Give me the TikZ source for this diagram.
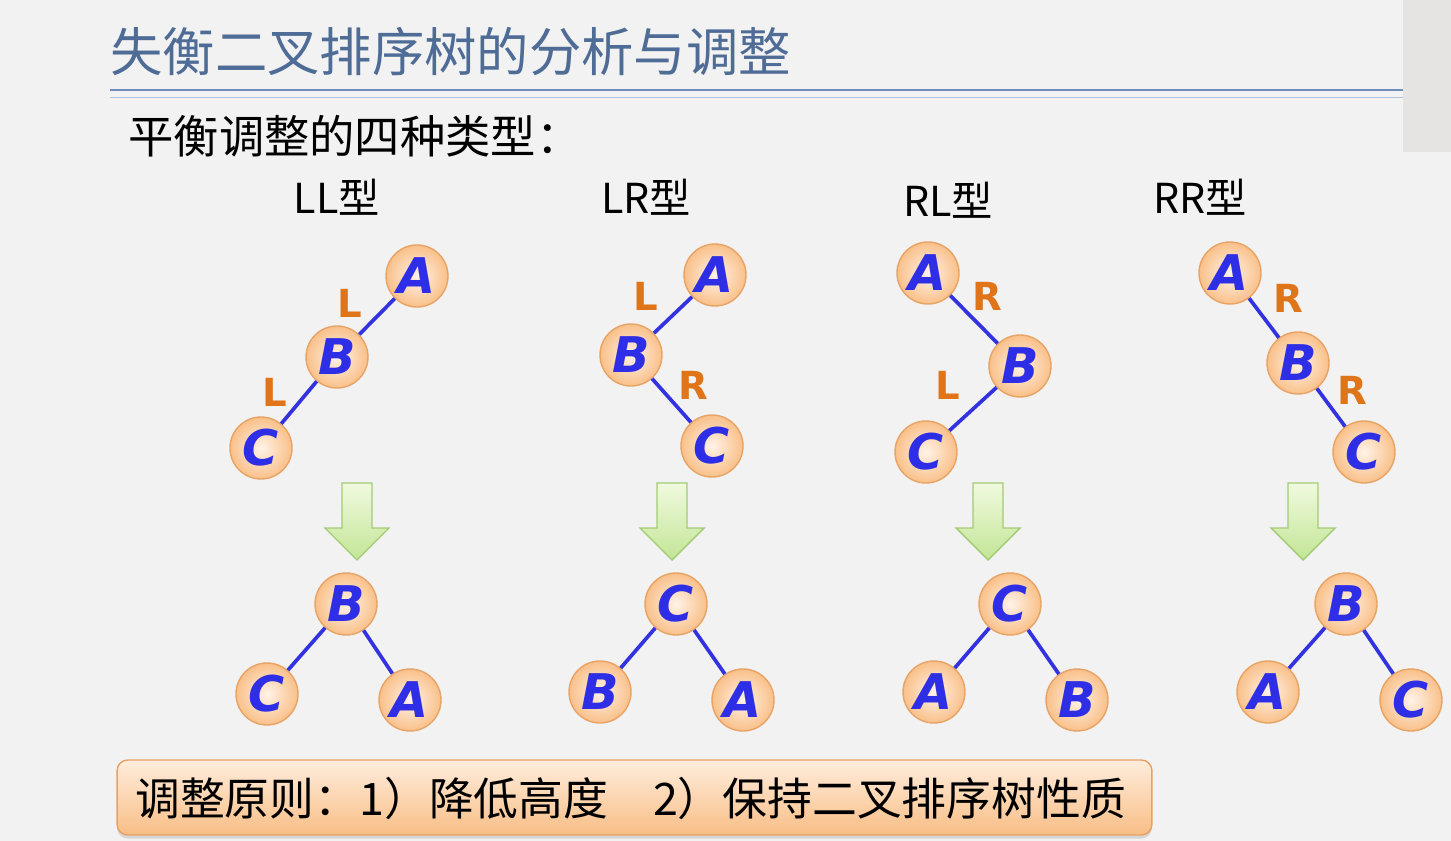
\documentclass[tikz,border=0pt]{standalone}
\usepackage{fontspec}
\setmainfont{Noto Sans CJK SC}
\newfontfamily\letterfont{DejaVu Sans}
\usetikzlibrary{shadows}
\definecolor{bg}{HTML}{F2F2F2}
\definecolor{sidegray}{HTML}{E6E3E3}
\definecolor{titleblue}{HTML}{4E6C96}
\definecolor{ruleA}{HTML}{6D8DBD}
\definecolor{ruleB}{HTML}{AFC2DD}
\definecolor{edgeblue}{HTML}{3232E0}
\definecolor{lblorange}{HTML}{E07418}
\definecolor{nodeIn}{HTML}{FFF3E8}
\definecolor{nodeOut}{HTML}{F9C089}
\definecolor{nodeBorder}{HTML}{E8A466}
\definecolor{letterblue}{HTML}{2E2EE6}
\definecolor{arrTop}{HTML}{F0FADF}
\definecolor{arrBot}{HTML}{C3E596}
\definecolor{arrBorder}{HTML}{A3CB74}
\definecolor{boxTop}{HTML}{FFEDDC}
\definecolor{boxBot}{HTML}{F8BE86}
\definecolor{boxBorder}{HTML}{E9A062}
\tikzset{
  tn/.style={circle, minimum size=1.24cm, inner sep=0pt, draw=nodeBorder, line width=0.8pt,
    inner color=nodeIn, outer color=nodeOut, text=letterblue,
    font=\letterfont\bfseries\itshape\fontsize{28}{28}\selectfont},
  edge/.style={draw=edgeblue, line width=2.1pt},
  lbl/.style={text=lblorange, inner sep=0pt, font=\letterfont\bfseries\fontsize{22}{22}\selectfont},
  typelbl/.style={inner sep=0pt, font=\fontsize{23.5}{23.5}\selectfont},
  downarr/.style={draw=arrBorder, line width=0.8pt, top color=arrTop, bottom color=arrBot},
}
\begin{document}
\begin{tikzpicture}[x=0.02cm,y=-0.02cm]
\useasboundingbox (0,0) rectangle (1451,841);
\fill[bg] (0,0) rectangle (1451,841);
\fill[sidegray] (1403,0) rectangle (1451,152);
% title
\node[anchor=west, inner sep=0pt, text=titleblue, font=\fontsize{29.8}{29.8}\selectfont] (title) at (110,52) {失衡二叉排序树的分析与调整};
\draw[ruleA, line width=1.6pt] (110,90) -- (1403,90);
\draw[ruleB, line width=1.1pt] (110,97.5) -- (1403,97.5);
\node[anchor=west, inner sep=0pt, font=\fontsize{25.8}{25.8}\selectfont] (sub) at (128,136) {平衡调整的四种类型：};
% type labels
\node[typelbl] (t1) at (337,197) {LL型};
\node[typelbl] (t2) at (646,197) {LR型};
\node[typelbl] (t3) at (948,200) {RL型};
\node[typelbl] (t4) at (1200,197) {RR型};
% LL
\node[tn] (llA) at (417,276) {A};
\node[tn] (llB) at (337,357) {B};
\node[tn] (llC) at (261,448) {C};
\draw[edge] (llA) -- (llB);
\draw[edge] (llB) -- (llC);
\node[lbl] (llL1) at (350,303) {L};
\node[lbl] (llL2) at (275,392) {L};
% LR
\node[tn] (lrA) at (715,275) {A};
\node[tn] (lrB) at (631,355) {B};
\node[tn] (lrC) at (712,446) {C};
\draw[edge] (lrA) -- (lrB);
\draw[edge] (lrB) -- (lrC);
\node[lbl] (lrL) at (646,296) {L};
\node[lbl] (lrR) at (693,385) {R};
% RL
\node[tn] (rlA) at (928,273) {A};
\node[tn] (rlB) at (1020,366) {B};
\node[tn] (rlC) at (926,452) {C};
\draw[edge] (rlA) -- (rlB);
\draw[edge] (rlB) -- (rlC);
\node[lbl] (rlR) at (987,296) {R};
\node[lbl] (rlL) at (948,385) {L};
% RR
\node[tn] (rrA) at (1230,273) {A};
\node[tn] (rrB) at (1298,363) {B};
\node[tn] (rrC) at (1364,452) {C};
\draw[edge] (rrA) -- (rrB);
\draw[edge] (rrB) -- (rrC);
\node[lbl] (rrR1) at (1288,298) {R};
\node[lbl] (rrR2) at (1352,390) {R};
% arrows
\foreach \x in {357,672,988,1303}
  \draw[downarr] (\x-15,483) -- (\x+15,483) -- (\x+15,528) -- (\x+32,528) -- (\x,560) -- (\x-32,528) -- (\x-15,528) -- cycle;
% results
\node[tn] (r1B) at (346,604) {B};
\node[tn] (r1C) at (267,694) {C};
\node[tn] (r1A) at (410,700) {A};
\draw[edge] (r1B) -- (r1C);
\draw[edge] (r1B) -- (r1A);
\node[tn] (r2C) at (676,604) {C};
\node[tn] (r2B) at (600,692) {B};
\node[tn] (r2A) at (743,700) {A};
\draw[edge] (r2C) -- (r2B);
\draw[edge] (r2C) -- (r2A);
\node[tn] (r3C) at (1010,604) {C};
\node[tn] (r3A) at (934,692) {A};
\node[tn] (r3B) at (1077,700) {B};
\draw[edge] (r3C) -- (r3A);
\draw[edge] (r3C) -- (r3B);
\node[tn] (r4B) at (1346,604) {B};
\node[tn] (r4A) at (1268,692) {A};
\node[tn] (r4C) at (1411,700) {C};
\draw[edge] (r4B) -- (r4A);
\draw[edge] (r4B) -- (r4C);
% bottom box
\node[draw=boxBorder, line width=0.8pt, rounded corners=6pt, top color=boxTop, bottom color=boxBot,
  minimum width=20.7cm, minimum height=1.5cm, inner sep=0pt,
  drop shadow={shadow xshift=0pt, shadow yshift=-2pt, opacity=0.25}] (box) at (634.5,797.5) {};
\node[anchor=west, inner sep=0pt, font=\fontsize{25.5}{25.5}\selectfont] (boxtext) at (135,798) {调整原则：1）降低高度\hspace{1em}2）保持二叉排序树性质};
\end{tikzpicture}
\end{document}
